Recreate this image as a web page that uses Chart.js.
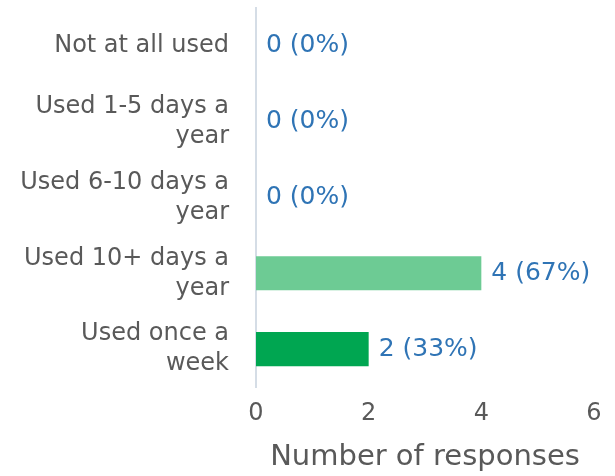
<!DOCTYPE html>
<html>
<head>
<meta charset="utf-8">
<script src="https://cdn.jsdelivr.net/npm/chart.js@4"></script>
<style>
  html, body { margin: 0; padding: 0; background: #fff; }
  #wrap { width: 615px; height: 476px; position: relative; }
</style>
</head>
<body>
<div id="wrap"><canvas id="chart"></canvas></div>
<script>
const categories = [
  "Not at all used",
  ["Used 1-5 days a", "year"],
  ["Used 6-10 days a", "year"],
  ["Used 10+ days a", "year"],
  ["Used once a", "week"],
];
const responses = [0, 0, 0, 4, 2];
const percents = [0, 0, 0, 67, 33];
const xTicks = [0, 2, 4, 6];
const barColors = ["#6dcb94", "#6dcb94", "#6dcb94", "#6dcb94", "#00a651"];

const FONT = "'DejaVu Sans', sans-serif";

// draws "n (p%)" just past the end of each bar
const valueLabels = {
  id: "valueLabels",
  afterDatasetsDraw(chart) {
    const ctx = chart.ctx;
    const meta = chart.getDatasetMeta(0);
    ctx.save();
    ctx.font = "25px " + FONT;
    ctx.fillStyle = "#2f74b5";
    ctx.textBaseline = "middle";
    ctx.textAlign = "left";
    meta.data.forEach((bar, i) => {
      ctx.fillText(`${responses[i]} (${percents[i]}%)`, bar.x + 10, bar.y);
    });
    ctx.restore();
  },
};

new Chart(document.getElementById("chart"), {
  type: "bar",
  data: {
    labels: categories,
    datasets: [
      {
        label: "Number of responses",
        data: responses,
        backgroundColor: barColors,
        borderWidth: 0,
        barPercentage: 0.45,
        categoryPercentage: 1,
      },
    ],
  },
  options: {
    indexAxis: "y",
    responsive: true,
    maintainAspectRatio: false,
    animation: false,
    layout: { padding: { top: 8, right: 21, left: 0, bottom: 0 } },
    plugins: { legend: { display: false }, tooltip: { enabled: false } },
    scales: {
      x: {
        min: 0,
        max: 6,
        afterBuildTicks: (scale) => {
          scale.ticks = xTicks.map((v) => ({ value: v }));
        },
        afterFit: (scale) => {
          scale.height = 89;
        },
        grid: { display: false, drawTicks: false },
        border: { display: false },
        ticks: { color: "#595959", font: { family: FONT, size: 24 }, padding: 12 },
        title: {
          display: true,
          text: "Number of responses",
          color: "#595959",
          font: { family: FONT, size: 29 },
          padding: { top: 4, bottom: 1 },
        },
      },
      y: {
        afterFit: (scale) => {
          scale.width = 256;
          scale.paddingTop = 0;
          scale.paddingBottom = 0;
        },
        grid: { display: false, drawTicks: false },
        border: { display: true, color: "#d5dde6", width: 2 },
        ticks: {
          color: "#595959",
          font: { family: FONT, size: 24, lineHeight: 1.25 },
          padding: 27,
        },
      },
    },
  },
  plugins: [valueLabels],
});
</script>
</body>
</html>
